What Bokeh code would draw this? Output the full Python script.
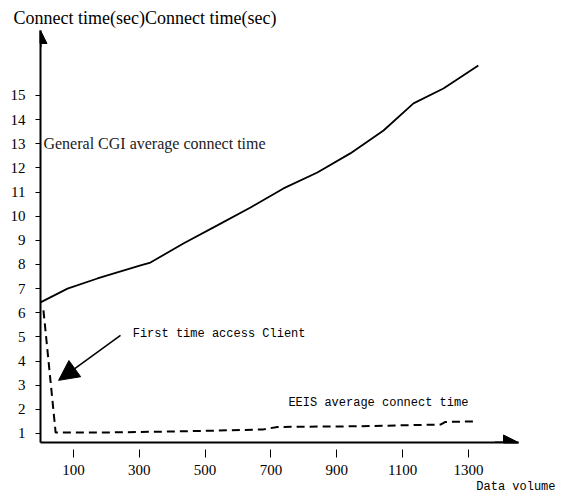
from bokeh.plotting import figure
from bokeh.models import Range1d, FixedTicker, Label, Arrow, NormalHead, Title
from bokeh.embed import file_html
from bokeh.resources import INLINE

# Data
cgi_volume = [0, 82, 173, 304, 334, 434, 537, 638, 738, 841, 941, 1042, 1133, 1224, 1330]
cgi_time = [6.43, 7.0, 7.42, 7.96, 8.08, 8.87, 9.62, 10.36, 11.15, 11.81, 12.6, 13.55, 14.67, 15.29, 16.24]
eeis_volume = [9, 46, 191, 395, 538, 677, 720, 963, 1215, 1230, 1327]
eeis_time = [6.1, 1.04, 1.04, 1.08, 1.12, 1.17, 1.27, 1.3, 1.37, 1.48, 1.5]
x_ticks = [100, 300, 500, 700, 900, 1100, 1300]
y_ticks = list(range(1, 16))

X0, X1 = 0, 1452
Y0, Y1 = 0.627, 17.69

serif = "Liberation Serif"
mono = "Liberation Mono"

p = figure(frame_width=478, frame_height=412,
           min_border_left=40, min_border_right=55, min_border_top=30, min_border_bottom=58,
           x_range=Range1d(X0, X1), y_range=Range1d(Y0, Y1),
           output_backend="svg", toolbar_location=None,
           background_fill_color="white", border_fill_color="white")
p.outline_line_color = None
p.grid.visible = False

# Y-axis title (above the plot, left-aligned)
p.title.text = "Connect time(sec)Connect time(sec)"
p.title.align = "left"
p.title.offset = -27
p.title.text_font = serif
p.title.text_font_size = "18px"
p.title.text_font_style = "normal"
p.title.text_color = "black"
p.title.standoff = 6

for ax in (p.xaxis[0], p.yaxis[0]):
    ax.axis_line_color = "black"
    ax.axis_line_width = 2
    ax.minor_tick_line_color = None
    ax.major_tick_line_color = "black"
    ax.major_tick_line_width = 1
    ax.major_label_text_font = serif
    ax.major_label_text_font_size = "15px"
    ax.major_label_text_color = "black"

p.xaxis.ticker = FixedTicker(ticks=x_ticks)
p.xaxis.major_tick_in = -7
p.xaxis.major_tick_out = 15
p.xaxis.major_label_standoff = 7

p.yaxis.ticker = FixedTicker(ticks=y_ticks)
p.yaxis.major_tick_in = 0
p.yaxis.major_tick_out = 5
p.yaxis.major_label_standoff = 10

# X-axis title (below the axis, right-aligned)
p.add_layout(Title(text="Data volume", align="right", offset=-37, standoff=0,
                   text_font=mono, text_font_size="12px", text_font_style="normal",
                   text_color="black"), "below")

# Series
p.line(cgi_volume, cgi_time, line_color="black", line_width=1.8)
p.line(eeis_volume, eeis_time, line_color="black", line_width=2, line_dash="8 5")

# Axis arrowheads
p.add_layout(Arrow(end=NormalHead(size=15, fill_color="black", line_color="black"),
                   x_start=1380, y_start=Y0, x_end=X1, y_end=Y0,
                   line_color="black", line_width=2))
p.add_layout(Arrow(end=NormalHead(size=13, fill_color="black", line_color="black"),
                   x_start=X0, y_start=17.0, x_end=X0, y_end=Y1,
                   line_color="black", line_width=2))

# Annotation arrow
p.add_layout(Arrow(end=NormalHead(size=20, fill_color="black", line_color="black"),
                   x_start=243, y_start=5.06, x_end=55, y_end=3.2,
                   line_color="black", line_width=1.5))

p.add_layout(Label(x=280, y=5.14, text="First time access Client",
                   text_font=mono, text_font_size="12px", text_baseline="middle",
                   text_color="black"))
p.add_layout(Label(x=753, y=2.28, text="EEIS average connect time",
                   text_font=mono, text_font_size="12px", text_baseline="middle",
                   text_color="black"))
p.add_layout(Label(x=9, y=13.01, text="General CGI  average connect time",
                   text_font=serif, text_font_size="16px", text_baseline="middle",
                   text_color="#222222"))

open("out.html", "w").write(file_html(p, INLINE))
